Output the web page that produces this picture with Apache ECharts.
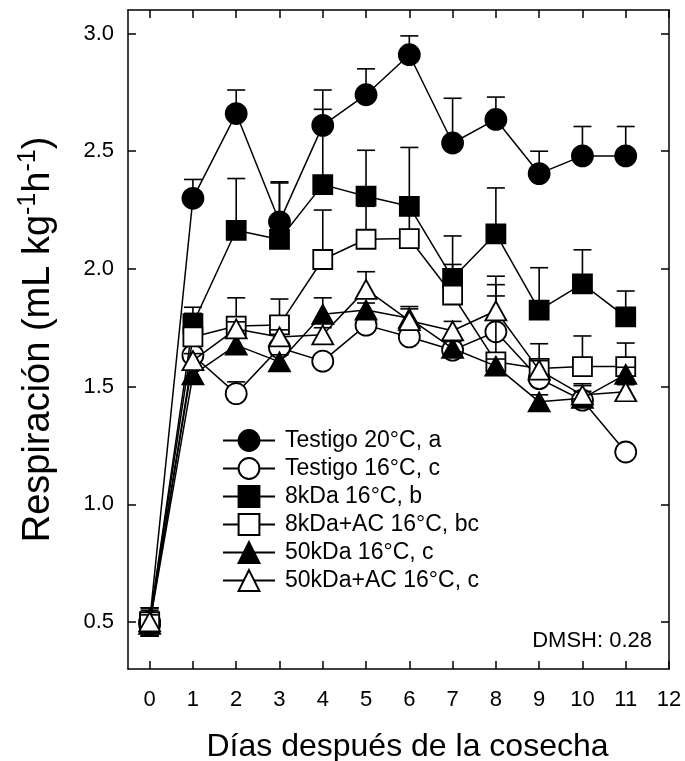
<!DOCTYPE html>
<html>
<head>
<meta charset="utf-8">
<script src="https://cdn.jsdelivr.net/npm/echarts@6/dist/echarts.min.js"></script>
<style>
  html, body { margin: 0; padding: 0; background: #fff; }
  #chart { width: 685px; height: 761px; }
</style>
</head>
<body>
<div id="chart"></div>
<script>
// Days after harvest and axis ticks
const days = [0, 1, 2, 3, 4, 5, 6, 7, 8, 9, 10, 11];
const xTicks = [0, 1, 2, 3, 4, 5, 6, 7, 8, 9, 10, 11, 12];
const yTicks = [0.5, 1.0, 1.5, 2.0, 2.5, 3.0];

// Treatment names (legend)
const treatmentNames = [
  'Testigo 20°C, a',
  'Testigo 16°C, c',
  '8kDa 16°C, b',
  '8kDa+AC 16°C, bc',
  '50kDa 16°C, c',
  '50kDa+AC 16°C, c'
];

// Respiration rate (mL kg-1 h-1), mean per day
const testigo20 = [0.50, 2.30, 2.66, 2.20, 2.61, 2.74, 2.91, 2.535, 2.635, 2.405, 2.48, 2.48];
const testigo16 = [0.49, 1.633, 1.47, 1.665, 1.608, 1.761, 1.711, 1.655, 1.733, 1.534, 1.442, 1.222];
const kda8 = [0.50, 1.767, 2.164, 2.125, 2.358, 2.309, 2.266, 1.96, 2.149, 1.825, 1.936, 1.796];
const kda8AC = [0.50, 1.711, 1.757, 1.762, 2.04, 2.126, 2.129, 1.889, 1.605, 1.577, 1.585, 1.585];
const kda50 = [0.49, 1.55, 1.676, 1.605, 1.807, 1.825, 1.79, 1.662, 1.587, 1.435, 1.45, 1.552];
const kda50AC = [0.50, 1.61, 1.745, 1.711, 1.72, 1.913, 1.78, 1.737, 1.822, 1.57, 1.464, 1.478];

// Standard error, upper side
const testigo20Err = [0.06, 0.08, 0.10, 0.17, 0.15, 0.11, 0.08, 0.19, 0.095, 0.095, 0.125, 0.125];
const testigo16Err = [0.05, 0.02, 0.05, 0.02, 0.015, 0.02, 0.02, 0.02, 0.20, 0.02, 0.07, 0.02];
const kda8Err = [0.06, 0.07, 0.22, 0.24, 0.32, 0.195, 0.25, 0.18, 0.195, 0.18, 0.145, 0.11];
const kda8ACErr = [0.05, 0.10, 0.12, 0.11, 0.21, 0.14, 0.10, 0.13, 0.28, 0.105, 0.13, 0.10];
const kda50Err = [0.04, 0.03, 0.03, 0.03, 0.07, 0.03, 0.05, 0.03, 0.03, 0.03, 0.03, 0.03];
const kda50ACErr = [0.06, 0.03, 0.03, 0.03, 0.03, 0.075, 0.05, 0.04, 0.147, 0.04, 0.04, 0.03];

// Standard error, lower side (only drawn at harvest day)
const testigo20ErrDown = [0.06, 0, 0, 0, 0, 0, 0, 0, 0, 0, 0, 0];
const testigo16ErrDown = [0.05, 0, 0, 0, 0, 0, 0, 0, 0, 0, 0, 0];
const kda8ErrDown = [0.06, 0, 0, 0, 0, 0, 0, 0, 0, 0, 0, 0];
const kda8ACErrDown = [0.05, 0, 0, 0, 0, 0, 0, 0, 0, 0, 0, 0];
const kda50ErrDown = [0.04, 0, 0, 0, 0, 0, 0, 0, 0, 0, 0, 0];
const kda50ACErrDown = [0.06, 0, 0, 0, 0, 0, 0, 0, 0, 0, 0, 0];

const means = [testigo20, testigo16, kda8, kda8AC, kda50, kda50AC];
const errsUp = [testigo20Err, testigo16Err, kda8Err, kda8ACErr, kda50Err, kda50ACErr];
const errsDown = [testigo20ErrDown, testigo16ErrDown, kda8ErrDown, kda8ACErrDown, kda50ErrDown, kda50ACErrDown];

// Marker appearance per treatment
const markers = [
  { symbol: 'circle', size: 21, filled: true },
  { symbol: 'circle', size: 21, filled: false },
  { symbol: 'rect', size: 19, filled: true },
  { symbol: 'rect', size: 19, filled: false },
  { symbol: 'triangle', size: [21, 19], filled: true },
  { symbol: 'triangle', size: [21, 19], filled: false }
];

const FONT = '"Liberation Sans", Arial, Helvetica, sans-serif';
const INK = '#000';

function errorBar(params, api) {
  const x = api.value(0);
  const y = api.value(1);
  const up = api.value(2);
  const down = api.value(3);
  const c = api.coord([x, y]);
  const cap = 9;
  const style = { stroke: INK, lineWidth: 1.6, fill: null };
  const children = [];
  if (up > 0) {
    const t = api.coord([x, y + up]);
    children.push({ type: 'line', shape: { x1: c[0], y1: c[1], x2: t[0], y2: t[1] }, style });
    children.push({ type: 'line', shape: { x1: t[0] - cap, y1: t[1], x2: t[0] + cap, y2: t[1] }, style });
  }
  if (down > 0) {
    const b = api.coord([x, y - down]);
    children.push({ type: 'line', shape: { x1: c[0], y1: c[1], x2: b[0], y2: b[1] }, style });
    children.push({ type: 'line', shape: { x1: b[0] - cap, y1: b[1], x2: b[0] + cap, y2: b[1] }, style });
  }
  return { type: 'group', children };
}

const series = [];
treatmentNames.forEach((name, i) => {
  const m = markers[i];
  series.push({
    name: name + ' SE',
    type: 'custom',
    renderItem: errorBar,
    encode: { x: 0, y: 1 },
    data: days.map((d, k) => [d, means[i][k], errsUp[i][k], errsDown[i][k]]),
    z: 10 + i * 2,
    silent: true
  });
  series.push({
    name: name,
    type: 'line',
    data: days.map((d, k) => [d, means[i][k]]),
    symbol: m.symbol,
    symbolSize: m.size,
    showAllSymbol: true,
    lineStyle: { color: INK, width: 1.5 },
    itemStyle: {
      color: m.filled ? INK : '#fff',
      borderColor: INK,
      borderWidth: 1.8
    },
    emphasis: { disabled: true },
    z: 11 + i * 2
  });
});

const axisLineStyle = { color: INK, width: 1.5 };
const tickStyle = { color: INK, width: 1.5 };

const option = {
  animation: false,
  backgroundColor: '#fff',
  grid: { left: 128, right: 16, top: 10, bottom: 92, containLabel: false, outerBoundsMode: 'none' },
  legend: {
    data: treatmentNames,
    orient: 'vertical',
    left: 217,
    top: 424,
    itemWidth: 52,
    itemHeight: 26,
    itemGap: 5,
    selectedMode: false,
    textStyle: { fontFamily: FONT, fontSize: 23, color: INK, padding: [0, 0, 0, 5] }
  },
  xAxis: [
    {
      type: 'value', min: -0.5, max: 12, position: 'bottom',
      axisLine: { show: true, onZero: false, lineStyle: axisLineStyle },
      axisTick: { show: true, inside: true, length: 8, customValues: xTicks, lineStyle: tickStyle },
      axisLabel: { customValues: xTicks, margin: 20, fontFamily: FONT, fontSize: 22, color: INK },
      splitLine: { show: false },
      name: 'Días después de la cosecha',
      nameLocation: 'middle',
      nameGap: 62,
      nameTextStyle: { fontFamily: FONT, fontSize: 32, color: INK, padding: [0, 0, 0, 18] }
    },
    {
      type: 'value', min: -0.5, max: 12, position: 'top',
      axisLine: { show: true, onZero: false, lineStyle: axisLineStyle },
      axisTick: { show: true, inside: true, length: 8, customValues: xTicks, lineStyle: tickStyle },
      axisLabel: { show: false },
      splitLine: { show: false }
    }
  ],
  yAxis: [
    {
      type: 'value', min: 0.3, max: 3.1, position: 'left',
      axisLine: { show: true, onZero: false, lineStyle: axisLineStyle },
      axisTick: { show: true, inside: true, length: 8, customValues: yTicks, lineStyle: tickStyle },
      axisLabel: {
        customValues: yTicks, margin: 14, fontFamily: FONT, fontSize: 22, color: INK,
        formatter: v => v.toFixed(1)
      },
      splitLine: { show: false },
      name: '{b|Respiración (mL kg}{s|-1}{b|h}{s|-1}{b|)}',
      nameLocation: 'middle',
      nameGap: 70,
      nameRotate: 90,
      nameTextStyle: {
        fontFamily: FONT, fontSize: 38, color: INK,
        rich: {
          b: { fontFamily: FONT, fontSize: 38, color: INK, verticalAlign: 'bottom', lineHeight: 42 },
          s: { fontFamily: FONT, fontSize: 25, color: INK, verticalAlign: 'top', lineHeight: 42 }
        }
      }
    },
    {
      type: 'value', min: 0.3, max: 3.1, position: 'right',
      axisLine: { show: true, onZero: false, lineStyle: axisLineStyle },
      axisTick: { show: true, inside: true, length: 8, customValues: yTicks, lineStyle: tickStyle },
      axisLabel: { show: false },
      splitLine: { show: false }
    }
  ],
  graphic: [
    {
      type: 'text',
      right: 33,
      top: 630,
      style: { text: 'DMSH: 0.28', fontFamily: FONT, fontSize: 22, fill: INK }
    }
  ],
  series
};

const chart = echarts.init(document.getElementById('chart'));
chart.setOption(option);
</script>
</body>
</html>
